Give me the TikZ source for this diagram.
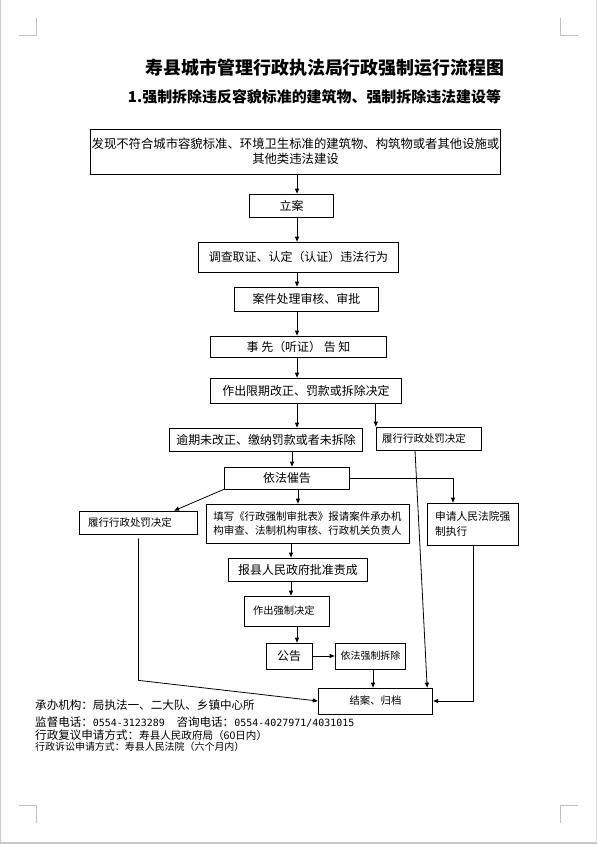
\documentclass[tikz,border=0pt]{standalone}
\usepackage{fontspec}
\setmainfont{Noto Sans CJK SC}
\newfontfamily\numfont{DejaVu Sans Mono}
\usetikzlibrary{
  arrows.meta,
  calc
}

\begin{document}
\begin{tikzpicture}[x=1bp,y=-1bp,
  box/.style={draw,line width=0.8bp,inner sep=0pt,align=center,font=\fontsize{12}{15}\selectfont},
  lbox/.style={draw,line width=0.8bp,inner ysep=0pt,align=left},
  arr/.style={line width=0.8bp,-{Triangle[length=5bp,width=4bp]}},
  note/.style={anchor=west,inner sep=0pt,font=\fontsize{11.6}{14}\selectfont},
  crop/.style={draw=black!25,line width=0.8bp}]
\useasboundingbox (0,0) rectangle (597,844);
% page edges and corner marks
\fill[black!22] (0,0) rectangle (1,844);
\fill[black!15] (596,0) rectangle (597,844);
\fill[black!22] (0,842) rectangle (597,844);
\draw[crop] (19,35) -- (36,35) -- (36,18);
\draw[crop] (578,35) -- (560,35) -- (560,18);
\draw[crop] (19,805) -- (36,805) -- (36,823);
\draw[crop] (578,805) -- (560,805) -- (560,823);

% titles
\node[font=\fontsize{18}{20}\selectfont\bfseries] (title) at (325,68) {寿县城市管理行政执法局行政强制运行流程图};
\node[font=\fontsize{15}{17}\selectfont\bfseries] (subtitle) at (314.5,97) {1.强制拆除违反容貌标准的建筑物、强制拆除违法建设等};

% spine x positions
\coordinate (sp) at (297,0);
\coordinate (sq) at (292,0);
\coordinate (sr) at (291,0);
\coordinate (ss) at (373,0);

% main boxes
\node[box,minimum width=411,minimum height=45,font=\fontsize{12.4}{15}\selectfont] (find) at (295.5,151.5) {发现不符合城市容貌标准、环境卫生标准的建筑物、构筑物或者其他设施或\\其他类违法建设};
\node[box,minimum width=85,minimum height=23] (filing) at (291.5,205.5) {立案};
\node[box,minimum width=201,minimum height=30] (investigate) at (298.5,257) {调查取证、认定（认证）违法行为};
\node[box,minimum width=145,minimum height=24] (review) at (306.5,299) {案件处理审核、审批};
\node[box,minimum width=177,minimum height=21] (notice) at (298.5,346.5) {事\ 先（听证）\ 告\ 知};
\node[box,minimum width=192,minimum height=25] (decide) at (306,390.5) {作出限期改正、罚款或拆除决定};
\node[box,minimum width=194,minimum height=23] (overdue) at (266,439.5) {逾期未改正、缴纳罚款或者未拆除};
\node[lbox,inner xsep=6,text width=94,minimum height=23,font=\fontsize{10.5}{13}\selectfont] (complyA) at (429,438.5) {履行行政处罚决定};
\node[box,minimum width=126,minimum height=22] (urge) at (287,478) {依法催告};
\node[lbox,inner xsep=8,text width=76,minimum height=42,font=\fontsize{10.8}{15}\selectfont] (court) at (473,524) {申请人民法院强\\制执行};
\node[lbox,inner xsep=9,text width=101,minimum height=23,font=\fontsize{10.5}{13}\selectfont] (complyB) at (138.5,522.5) {履行行政处罚决定};
\node[lbox,inner xsep=7,text width=190,minimum height=39,font=\fontsize{10.5}{15}\selectfont] (approve) at (308,523.5) {填写《行政强制审批表》报请案件承办机\\构审查、法制机构审核、行政机关负责人};
\node[box,minimum width=140,minimum height=23] (report) at (298,569.5) {报县人民政府批准责成};
\node[lbox,inner xsep=9,text width=68,minimum height=30,font=\fontsize{10.3}{13}\selectfont] (enforce) at (287,611) {作出强制决定};
\node[box,minimum width=46,minimum height=26] (announce) at (289,656) {公告};
\node[box,minimum width=71,minimum height=26,font=\fontsize{10}{12}\selectfont] (demolish) at (370.5,656) {依法强制拆除};
\node[box,minimum width=115,minimum height=26,font=\fontsize{10.4}{12}\selectfont] (close) at (375.5,701) {结案、归档};

% connectors
\draw[arr] (find.south -| sp) -- (filing.north -| sp);
\draw[arr] (filing.south -| sp) -- (investigate.north -| sp);
\draw[arr] (investigate.south -| sp) -- (review.north -| sp);
\draw[arr] (review.south -| sp) -- (notice.north -| sp);
\draw[arr] (notice.south -| sp) -- (decide.north -| sp);
\draw[arr] (decide.south -| sp) -- (overdue.north -| sp);
\draw[arr] (decide.south -| complyA.west) -- (complyA.north west);
\draw[arr] (overdue.south -| sq) -- (urge.north -| sq);
\draw[arr] ($(urge.south)+(11,0)$) -- ($(approve.north)+(-10,0)$);
\draw[arr] (approve.south -| sr) -- (report.north -| sr);
\draw[arr] (report.south -| sr) -- (enforce.north -| sr);
\draw[arr] (enforce.south -| sp) -- (announce.north -| sp);
\draw[arr] (announce) -- (demolish);
\draw[arr] (demolish.south -| ss) -- (close.north -| ss);
\draw[arr] (urge.east) -| ($(court.north)+(-20,0)$);
\draw[arr] (urge.south west) -- ($(complyB.north east)+(-24,0)$);
\draw[arr] ($(complyB.south)+(0,4)$) -- ++(0,142) -- (close.west);
\draw[arr] (court.south) |- (close.east);
\draw[arr] ($(complyA.south)+(-14,0)$) -- ($(close.north east)+(-6,0)$);

% footer
\node[note] (org) at (35,705) {承办机构：局执法一、二大队、乡镇中心所};
\node[note] (phone) at (35,722) {监督电话：{\numfont\fontsize{10}{12}\selectfont 0554-3123289}\quad 咨询电话：{\numfont\fontsize{10}{12}\selectfont 0554-4027971/4031015}};
\node[note] (appeal) at (35,735) {行政复议申请方式：{\fontsize{10.6}{13}\selectfont 寿县人民政府局（60日内）}};
\node[note,font=\fontsize{10}{12}\selectfont] (lawsuit) at (35,747) {行政诉讼申请方式：寿县人民法院（六个月内）};
\end{tikzpicture}
\end{document}
